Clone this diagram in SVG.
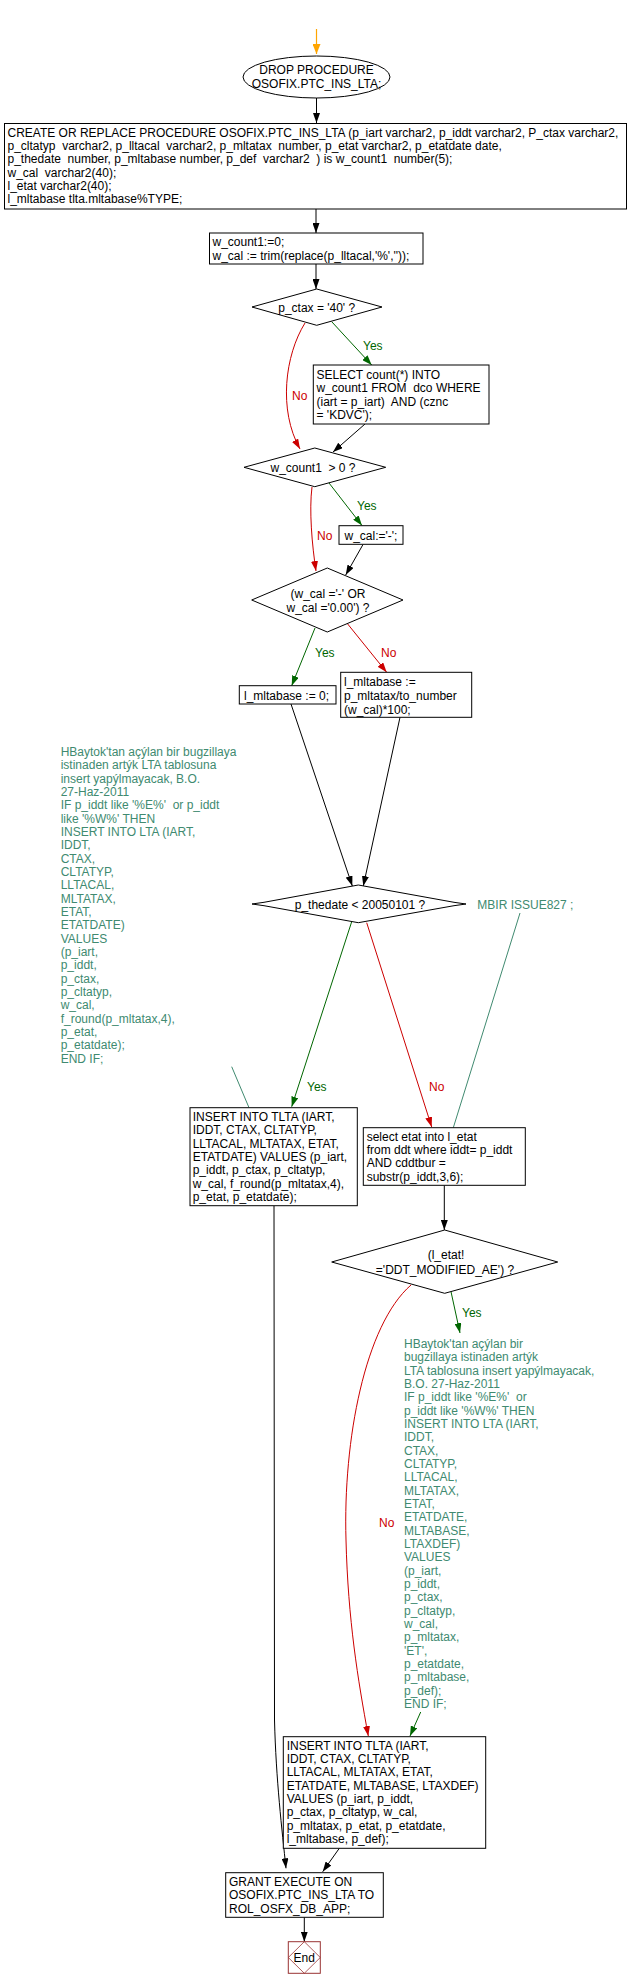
<svg xmlns="http://www.w3.org/2000/svg" width="630" height="1988" viewBox="0 0 630 1988">
<style>
text{font-family:"Liberation Sans",Arial,sans-serif;font-size:12px;fill:#000;white-space:pre}
.box{fill:#fff;stroke:#000;stroke-width:1}
.c{text-anchor:middle}
.cm{fill:#408a70}
.yes{fill:#006600}
.no{fill:#cc0000}
.lk{fill:none;stroke:#000;stroke-width:1}
.lg{fill:none;stroke:#006600;stroke-width:1}
.lr{fill:none;stroke:#cc0000;stroke-width:1}
.lt{fill:none;stroke:#408a70;stroke-width:1}
.lo{fill:none;stroke:#ffa500;stroke-width:1.2}
</style>
<defs>
<marker id="ak" markerUnits="userSpaceOnUse" markerWidth="10" markerHeight="7" refX="10" refY="3.5" orient="auto"><path d="M0,0 L10,3.5 L0,7 Z" fill="#000"/></marker>
<marker id="ag" markerUnits="userSpaceOnUse" markerWidth="10" markerHeight="7" refX="10" refY="3.5" orient="auto"><path d="M0,0 L10,3.5 L0,7 Z" fill="#006600"/></marker>
<marker id="ar" markerUnits="userSpaceOnUse" markerWidth="10" markerHeight="7" refX="10" refY="3.5" orient="auto"><path d="M0,0 L10,3.5 L0,7 Z" fill="#cc0000"/></marker>
<marker id="ao" markerUnits="userSpaceOnUse" markerWidth="10" markerHeight="8" refX="10" refY="4" orient="auto"><path d="M0,0 L10,4 L0,8 Z" fill="#ffa500"/></marker>
</defs>
<rect width="630" height="1988" fill="#fff"/>

<g id="connectors">
<line class="lo" x1="316.5" y1="29" x2="316.5" y2="54" marker-end="url(#ao)"/>
<line class="lk" x1="316.5" y1="98" x2="316.5" y2="123" marker-end="url(#ak)"/>
<line class="lk" x1="316" y1="209" x2="316" y2="233" marker-end="url(#ak)"/>
<line class="lk" x1="316" y1="264" x2="316" y2="289" marker-end="url(#ak)"/>
<line class="lg" x1="331.7" y1="321.7" x2="371.7" y2="365" marker-end="url(#ag)"/>
<text class="yes" x="363" y="350">Yes</text>
<path class="lr" d="M305,323 C285,355 278,410 300,449" marker-end="url(#ar)"/>
<text class="no" x="292" y="400">No</text>
<line class="lk" x1="365" y1="424" x2="333" y2="452" marker-end="url(#ak)"/>
<line class="lg" x1="328" y1="481.7" x2="362" y2="525.5" marker-end="url(#ag)"/>
<text class="yes" x="357" y="510">Yes</text>
<path class="lr" d="M312,487 C309,510 312,545 316,571" marker-end="url(#ar)"/>
<text class="no" x="317" y="540">No</text>
<line class="lk" x1="363" y1="544.5" x2="345.7" y2="575" marker-end="url(#ak)"/>
<line class="lg" x1="315" y1="628" x2="291.7" y2="685.7" marker-end="url(#ag)"/>
<text class="yes" x="315" y="657">Yes</text>
<line class="lr" x1="347.7" y1="624" x2="386.7" y2="672.3" marker-end="url(#ar)"/>
<text class="no" x="381" y="657">No</text>
<line class="lk" x1="291" y1="704" x2="352.3" y2="886" marker-end="url(#ak)"/>
<line class="lk" x1="400" y1="717.3" x2="363.3" y2="886" marker-end="url(#ak)"/>
<line class="lg" x1="351.7" y1="921.7" x2="291.7" y2="1106.7" marker-end="url(#ag)"/>
<text class="yes" x="307" y="1091">Yes</text>
<line class="lr" x1="366.7" y1="922.7" x2="431.7" y2="1127" marker-end="url(#ar)"/>
<text class="no" x="429" y="1091">No</text>
<line class="lt" x1="520" y1="913" x2="453.3" y2="1127.7"/>
<line class="lt" x1="231.7" y1="1066.7" x2="249" y2="1107.7"/>
<line class="lk" x1="444.3" y1="1185.3" x2="444.3" y2="1230" marker-end="url(#ak)"/>
<line class="lg" x1="451" y1="1291.7" x2="460" y2="1333" marker-end="url(#ag)"/>
<text class="yes" x="462" y="1317">Yes</text>
<path class="lr" d="M411,1285 C365,1325 343,1440 346,1540 C348,1620 358,1680 368.3,1736" marker-end="url(#ar)"/>
<text class="no" x="379" y="1527">No</text>
<line class="lg" x1="420.7" y1="1712" x2="410" y2="1736" marker-end="url(#ag)"/>
<path class="lk" d="M274,1206 L274.5,1720 C276,1780 282,1830 286,1868.3" marker-end="url(#ak)"/>
<line class="lk" x1="339.3" y1="1848.3" x2="322.7" y2="1871.7" marker-end="url(#ak)"/>
<line class="lk" x1="304.3" y1="1917.3" x2="304.3" y2="1941.7" marker-end="url(#ak)"/>
</g>

<g id="start">
<ellipse class="box" cx="316.5" cy="77" rx="73.5" ry="21"/>
<text class="c" x="316.5" y="74">DROP PROCEDURE</text>
<text class="c" x="316.5" y="87.5">OSOFIX.PTC_INS_LTA;</text>
</g>

<g id="create">
<rect class="box" x="4.5" y="123.5" width="622" height="85.5"/>
<text x="7.5" y="136.8">CREATE OR REPLACE PROCEDURE OSOFIX.PTC_INS_LTA (p_iart varchar2, p_iddt varchar2, P_ctax varchar2,</text>
<text x="7.5" y="150.1">p_cltatyp  varchar2, p_lltacal  varchar2, p_mltatax  number, p_etat varchar2, p_etatdate date,</text>
<text x="7.5" y="163.4">p_thedate  number, p_mltabase number, p_def  varchar2  ) is w_count1  number(5);</text>
<text x="7.5" y="176.7">w_cal  varchar2(40);</text>
<text x="7.5" y="190">l_etat varchar2(40);</text>
<text x="7.5" y="203.3">l_mltabase tlta.mltabase%TYPE;</text>
</g>

<g id="init">
<rect class="box" x="209.5" y="233" width="213.5" height="31"/>
<text x="212.5" y="246">w_count1:=0;</text>
<text x="212.5" y="259.5">w_cal := trim(replace(p_lltacal,'%',''));</text>
</g>

<g id="cond_ctax">
<polygon class="box" points="252,307 316.7,289 382,307 316.7,325.3"/>
<text class="c" x="316.7" y="312">p_ctax = '40' ?</text>
</g>

<g id="select_count">
<rect class="box" x="313.3" y="365" width="175.7" height="59"/>
<text x="316.5" y="379">SELECT count(*) INTO</text>
<text x="316.5" y="392.4">w_count1 FROM  dco WHERE</text>
<text x="316.5" y="405.8">(iart = p_iart)  AND (cznc</text>
<text x="316.5" y="419.2">= 'KDVC');</text>
</g>

<g id="cond_count">
<polygon class="box" points="244,467.3 314.8,448 385.7,467.3 314.8,486.7"/>
<text class="c" x="313" y="471.5">w_count1  &gt; 0 ?</text>
</g>

<g id="set_wcal">
<rect class="box" x="339" y="525.7" width="64" height="18.6"/>
<text x="344.5" y="539.8">w_cal:='-';</text>
</g>

<g id="cond_wcal">
<polygon class="box" points="251.7,600 327.3,568 403,600 327.3,632"/>
<text class="c" x="328" y="598">(w_cal ='-' OR</text>
<text class="c" x="328" y="612">w_cal ='0.00') ?</text>
</g>

<g id="mltabase_zero">
<rect class="box" x="239.3" y="685.7" width="96.7" height="18.3"/>
<text x="244" y="699.8">l_mltabase := 0;</text>
</g>

<g id="mltabase_calc">
<rect class="box" x="340.7" y="672.3" width="131" height="45"/>
<text x="344" y="685.7">l_mltabase :=</text>
<text x="344" y="699.7">p_mltatax/to_number</text>
<text x="344" y="714">(w_cal)*100;</text>
</g>

<g id="comment1">
<text class="cm" x="60.7" y="756">HBaytok'tan açýlan bir bugzillaya</text>
<text class="cm" x="60.7" y="769.3">istinaden artýk LTA tablosuna</text>
<text class="cm" x="60.7" y="782.7">insert yapýlmayacak, B.O.</text>
<text class="cm" x="60.7" y="796">27-Haz-2011</text>
<text class="cm" x="60.7" y="809.3">IF p_iddt like '%E%'  or p_iddt</text>
<text class="cm" x="60.7" y="822.7">like '%W%' THEN</text>
<text class="cm" x="60.7" y="836">INSERT INTO LTA (IART,</text>
<text class="cm" x="60.7" y="849.3">IDDT,</text>
<text class="cm" x="60.7" y="862.7">CTAX,</text>
<text class="cm" x="60.7" y="876">CLTATYP,</text>
<text class="cm" x="60.7" y="889.3">LLTACAL,</text>
<text class="cm" x="60.7" y="902.7">MLTATAX,</text>
<text class="cm" x="60.7" y="916">ETAT,</text>
<text class="cm" x="60.7" y="929.3">ETATDATE)</text>
<text class="cm" x="60.7" y="942.7">VALUES</text>
<text class="cm" x="60.7" y="956">(p_iart,</text>
<text class="cm" x="60.7" y="969.3">p_iddt,</text>
<text class="cm" x="60.7" y="982.7">p_ctax,</text>
<text class="cm" x="60.7" y="996">p_cltatyp,</text>
<text class="cm" x="60.7" y="1009.3">w_cal,</text>
<text class="cm" x="60.7" y="1022.7">f_round(p_mltatax,4),</text>
<text class="cm" x="60.7" y="1036">p_etat,</text>
<text class="cm" x="60.7" y="1049.3">p_etatdate);</text>
<text class="cm" x="60.7" y="1062.7">END IF;</text>
</g>

<g id="cond_thedate">
<polygon class="box" points="252,904 264,902.3 358.3,885 454,902.3 466,904 454,905.7 358.3,922.7 264,905.7"/>
<text class="c" x="360" y="909">p_thedate &lt; 20050101 ?</text>
</g>

<g id="comment2">
<text class="cm" x="477.3" y="909">MBIR ISSUE827 ;</text>
</g>

<g id="insert1">
<rect class="box" x="190" y="1107.7" width="167.3" height="98"/>
<text x="192.7" y="1120.7">INSERT INTO TLTA (IART,</text>
<text x="192.7" y="1134.1">IDDT, CTAX, CLTATYP,</text>
<text x="192.7" y="1147.5">LLTACAL, MLTATAX, ETAT,</text>
<text x="192.7" y="1160.9">ETATDATE) VALUES (p_iart,</text>
<text x="192.7" y="1174.3">p_iddt, p_ctax, p_cltatyp,</text>
<text x="192.7" y="1187.7">w_cal, f_round(p_mltatax,4),</text>
<text x="192.7" y="1201.1">p_etat, p_etatdate);</text>
</g>

<g id="select_etat">
<rect class="box" x="363.3" y="1127.7" width="162" height="57.6"/>
<text x="366.7" y="1140.7">select etat into l_etat</text>
<text x="366.7" y="1154">from ddt where iddt= p_iddt</text>
<text x="366.7" y="1167.3">AND cddtbur =</text>
<text x="366.7" y="1181">substr(p_iddt,3,6);</text>
</g>

<g id="cond_etat">
<polygon class="box" points="331.7,1262 444.7,1230 557.7,1262 444.7,1293.3"/>
<text class="c" x="446" y="1259">(l_etat!</text>
<text class="c" x="445" y="1274">='DDT_MODIFIED_AE') ?</text>
</g>

<g id="comment3">
<text class="cm" x="404" y="1348">HBaytok'tan açýlan bir</text>
<text class="cm" x="404" y="1361.3">bugzillaya istinaden artýk</text>
<text class="cm" x="404" y="1374.7">LTA tablosuna insert yapýlmayacak,</text>
<text class="cm" x="404" y="1388">B.O. 27-Haz-2011</text>
<text class="cm" x="404" y="1401.3">IF p_iddt like '%E%'  or</text>
<text class="cm" x="404" y="1414.7">p_iddt like '%W%' THEN</text>
<text class="cm" x="404" y="1428">INSERT INTO LTA (IART,</text>
<text class="cm" x="404" y="1441.3">IDDT,</text>
<text class="cm" x="404" y="1454.7">CTAX,</text>
<text class="cm" x="404" y="1468">CLTATYP,</text>
<text class="cm" x="404" y="1481.3">LLTACAL,</text>
<text class="cm" x="404" y="1494.7">MLTATAX,</text>
<text class="cm" x="404" y="1508">ETAT,</text>
<text class="cm" x="404" y="1521.3">ETATDATE,</text>
<text class="cm" x="404" y="1534.7">MLTABASE,</text>
<text class="cm" x="404" y="1548">LTAXDEF)</text>
<text class="cm" x="404" y="1561.3">VALUES</text>
<text class="cm" x="404" y="1574.7">(p_iart,</text>
<text class="cm" x="404" y="1588">p_iddt,</text>
<text class="cm" x="404" y="1601.3">p_ctax,</text>
<text class="cm" x="404" y="1614.7">p_cltatyp,</text>
<text class="cm" x="404" y="1628">w_cal,</text>
<text class="cm" x="404" y="1641.3">p_mltatax,</text>
<text class="cm" x="404" y="1654.7">'ET',</text>
<text class="cm" x="404" y="1668">p_etatdate,</text>
<text class="cm" x="404" y="1681.3">p_mltabase,</text>
<text class="cm" x="404" y="1694.7">p_def);</text>
<text class="cm" x="404" y="1708">END IF;</text>
</g>

<g id="insert2">
<rect class="box" x="283.3" y="1736.7" width="202.4" height="111.6"/>
<text x="286.7" y="1749.7">INSERT INTO TLTA (IART,</text>
<text x="286.7" y="1763">IDDT, CTAX, CLTATYP,</text>
<text x="286.7" y="1776.3">LLTACAL, MLTATAX, ETAT,</text>
<text x="286.7" y="1789.7">ETATDATE, MLTABASE, LTAXDEF)</text>
<text x="286.7" y="1803">VALUES (p_iart, p_iddt,</text>
<text x="286.7" y="1816.3">p_ctax, p_cltatyp, w_cal,</text>
<text x="286.7" y="1829.7">p_mltatax, p_etat, p_etatdate,</text>
<text x="286.7" y="1843">l_mltabase, p_def);</text>
</g>

<g id="grant">
<rect class="box" x="225.7" y="1872.7" width="157.6" height="44.6"/>
<text x="229" y="1885.7">GRANT EXECUTE ON</text>
<text x="229" y="1899">OSOFIX.PTC_INS_LTA TO</text>
<text x="229" y="1912.7">ROL_OSFX_DB_APP;</text>
</g>

<g id="end">
<rect x="288.3" y="1941.7" width="32" height="31.6" fill="#fff" stroke="#993333" stroke-width="1"/>
<polygon points="288.3,1957.5 304.3,1941.7 320.3,1957.5 304.3,1973.3" fill="none" stroke="#993333" stroke-width="0.8"/>
<text class="c" x="304.3" y="1962">End</text>
</g>
</svg>
